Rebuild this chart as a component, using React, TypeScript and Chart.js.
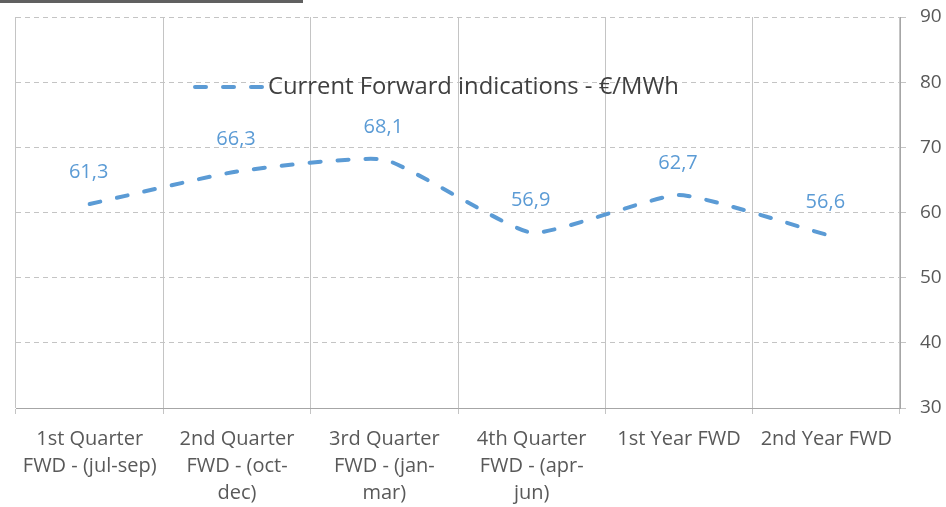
import React, { useEffect, useRef } from "react";
import { Chart, registerables } from "chart.js";

Chart.register(...registerables);

const categories: string[][] = [
  ["1st Quarter", "FWD - (jul-sep)"],
  ["2nd Quarter", "FWD - (oct-", "dec)"],
  ["3rd Quarter", "FWD - (jan-", "mar)"],
  ["4th Quarter", "FWD - (apr-", "jun)"],
  ["1st Year FWD"],
  ["2nd Year FWD"],
];
const seriesLabel = "Current Forward indications - €/MWh";
const forwardValues: number[] = [61.3, 66.3, 68.1, 56.9, 62.7, 56.6];
const yTicks = { min: 30, max: 90, step: 10 };

const LINE_COLOR = "#5B9BD5";
const FONT = "'Open Sans', sans-serif";

const dataLabelPlugin = {
  id: "dataLabels",
  afterDatasetsDraw(chart: any) {
    const ctx = chart.ctx;
    const meta = chart.getDatasetMeta(0);
    ctx.save();
    ctx.font = `20px ${FONT}`;
    ctx.fillStyle = LINE_COLOR;
    ctx.textAlign = "center";
    ctx.textBaseline = "middle";
    meta.data.forEach((pt: any, i: number) => {
      const v = chart.data.datasets[0].data[i] as number;
      ctx.fillText(v.toFixed(1).replace(".", ","), pt.x - 1, pt.y - 32);
    });
    ctx.restore();
  },
};

const legendPlugin = {
  id: "inlineLegend",
  afterDraw(chart: any) {
    const ctx = chart.ctx;
    const area = chart.chartArea;
    const x0 = area.left + 179;
    const y0 = area.top + 70;
    ctx.save();
    ctx.strokeStyle = LINE_COLOR;
    ctx.lineWidth = 4;
    ctx.lineCap = "round";
    ctx.setLineDash([11, 17]);
    ctx.beginPath();
    ctx.moveTo(x0, y0);
    ctx.lineTo(x0 + 68, y0);
    ctx.stroke();
    ctx.setLineDash([]);
    ctx.font = `23.8px ${FONT}`;
    ctx.fillStyle = "#404040";
    ctx.textAlign = "left";
    ctx.textBaseline = "middle";
    ctx.fillText(chart.data.datasets[0].label, x0 + 73, y0);
    ctx.restore();
  },
};

export default function App() {
  const ref = useRef<HTMLCanvasElement>(null);
  useEffect(() => {
    document.body.style.margin = "0";
    document.body.style.background = "#ffffff";
    const chart = new Chart(ref.current!, {
      type: "line",
      data: {
        labels: categories,
        datasets: [
          {
            label: seriesLabel,
            data: forwardValues,
            borderColor: LINE_COLOR,
            backgroundColor: LINE_COLOR,
            borderWidth: 4,
            borderDash: [11, 17],
            borderCapStyle: "round",
            tension: 0.15,
            pointRadius: 0,
            pointHoverRadius: 0,
            fill: false,
          },
        ],
      },
      options: {
        animation: false,
        responsive: false,
        maintainAspectRatio: false,
        layout: { padding: { left: 16, top: 17, right: 0, bottom: 0 } },
        plugins: {
          legend: { display: false },
          tooltip: { enabled: false },
        },
        scales: {
          x: {
            type: "category",
            offset: true,
            grid: {
              display: true,
              offset: true,
              color: "#c4c4c4",
              lineWidth: 1,
              drawTicks: true,
              tickLength: 6,
            },
            border: { display: true, color: "#a6a6a6", width: 1 },
            ticks: {
              color: "#595959",
              font: { family: FONT, size: 20, lineHeight: 1.35 },
              padding: 12,
              maxRotation: 0,
              autoSkip: false,
            },
            afterFit: (s: any) => {
              s.height = 99;
              s.paddingLeft = 0;
              s.paddingRight = 0;
            },
          },
          y: {
            position: "right",
            min: yTicks.min,
            max: yTicks.max,
            grid: {
              color: "#c4c4c4",
              lineWidth: 1,
              drawTicks: true,
              tickLength: 6,
            },
            border: { display: true, color: "#a6a6a6", width: 1, dash: [5, 4] },
            ticks: {
              stepSize: yTicks.step,
              color: "#595959",
              font: { family: FONT, size: 19 },
              padding: 14,
            },
            afterFit: (s: any) => {
              s.width = 46;
              s.paddingTop = 0;
              s.paddingBottom = 0;
            },
          },
        },
      },
      plugins: [dataLabelPlugin, legendPlugin],
    });
    return () => chart.destroy();
  }, []);
  return (
    <div style={{ position: "absolute", left: 0, top: 0, width: 946, height: 507, background: "#fff" }}>
      <div style={{ position: "absolute", left: 0, top: 0, width: 303, height: 3, background: "#606060" }} />
      <canvas ref={ref} width={946} height={507} style={{ display: "block" }} />
    </div>
  );
}
